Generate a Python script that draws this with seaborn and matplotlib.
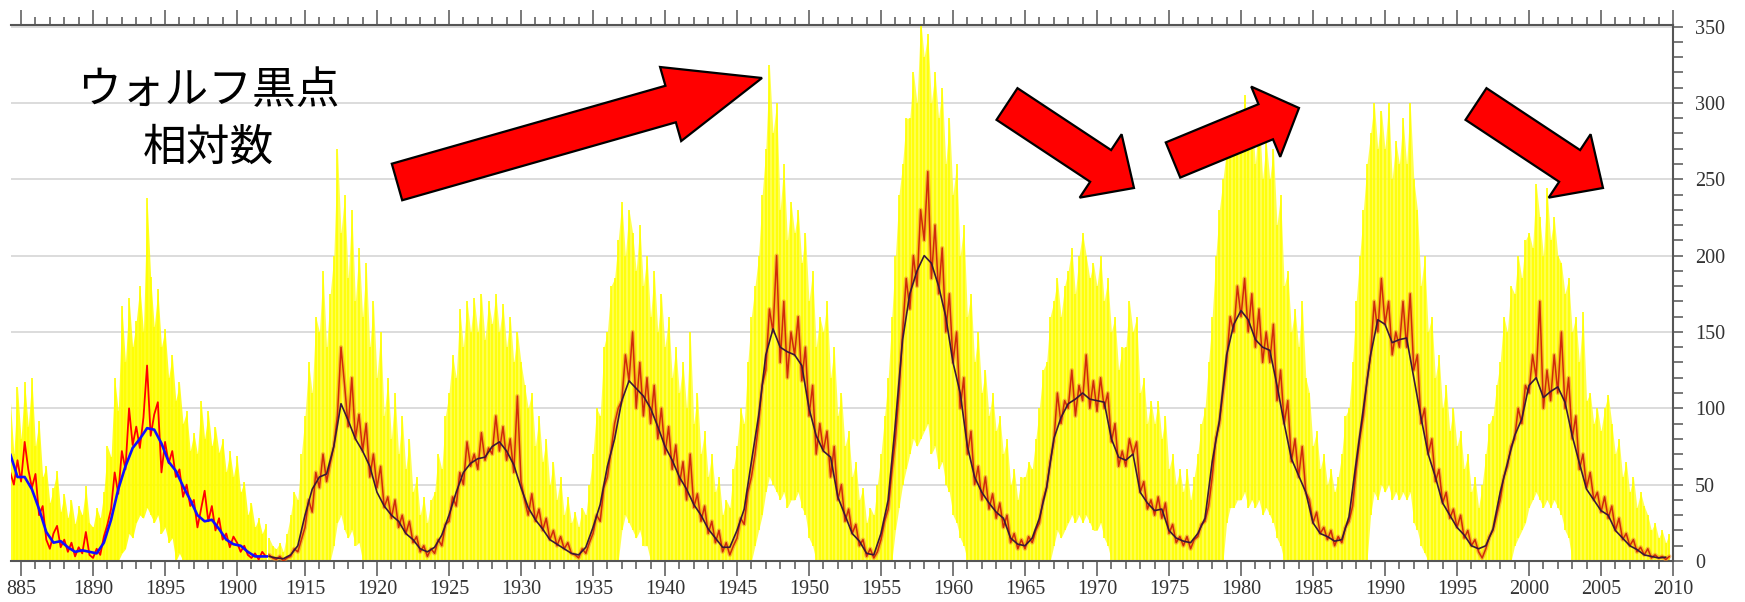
import numpy as np
import pandas as pd
import matplotlib
matplotlib.use('Agg')
import matplotlib.pyplot as plt
import matplotlib.ticker as mticker
from matplotlib.patches import FancyArrow
from matplotlib.transforms import IdentityTransform
import seaborn as sns

# ---- left image (1884 - 1902), quarterly / half-yearly samples ----
left_start = 1884.25
left_smooth = [70, 55, 55, 47, 34, 19, 12, 13, 9, 6, 7, 6, 5, 12, 27, 47, 62, 74,
               80, 87, 86, 77, 65, 59, 49, 40, 30, 26, 27, 21, 14, 11, 10, 6, 3, 3, 3]
left_monthly = [58, 50, 66, 52,
                78, 60, 48, 57,
                30, 36, 14, 8,
                18, 23, 9, 14,
                6, 12, 3, 9,
                5, 19, 4, 2,
                8, 4, 16, 24,
                34, 58, 44, 72,
                60, 100, 76, 88,
                74, 94, 128, 82,
                96, 104, 58, 78,
                64, 72, 55, 60,
                42, 50, 36, 40,
                22, 34, 46, 26,
                36, 20, 28, 14,
                18, 9, 16, 12,
                6, 10, 4, 2,
                5, 1, 6, 3]
left_daily_hi = [106, 70, 114, 80,
                 117, 88, 120, 75,
                 92, 55, 62, 38,
                 48, 59, 32, 44,
                 28, 40, 24, 36,
                 30, 49, 25, 22,
                 35, 28, 45, 75,
                 68, 120, 98, 167,
                 130, 172, 140, 157,
                 180, 150, 238, 186,
                 153, 178, 140, 152,
                 120, 135, 105, 117,
                 90, 98, 72, 84,
                 70, 105, 80, 98,
                 75, 88, 71, 80,
                 58, 72, 55, 69,
                 45, 52, 30, 38,
                 22, 28, 18, 24]
left_daily_lo = [0, 0, 0, 0,
                 0, 0, 0, 0,
                 0, 0, 0, 0,
                 0, 0, 0, 0,
                 0, 0, 0, 0,
                 0, 0, 0, 0,
                 0, 0, 0, 0,
                 0, 0, 0, 5,
                 8, 18, 15, 25,
                 30, 28, 35, 30,
                 25, 30, 18, 22,
                 12, 15, 0, 5,
                 0, 0, 0, 0,
                 0, 0, 0, 0,
                 0, 0, 0, 0,
                 0, 0, 0, 0,
                 0, 0, 0, 0,
                 0, 0, 0, 0]

# ---- right image (1912 - 2009) ----
right_start = 1912.5
right_smooth = [3,
    2, 1.5, 4, 10, 30, 47, 55, 57, 75, 103, 92, 80, 72, 62, 45, 36, 30, 26, 18, 14,      # 1913-1922
    8, 6, 9, 17, 30, 45, 58, 64, 67, 68, 75, 78, 72, 63, 48, 35, 27, 21, 14, 11,          # 1923-1932
    8, 5, 4, 9, 22, 37, 62, 80, 105, 118, 113, 108, 100, 88, 75, 66, 55, 47, 37, 30,      # 1933-1942
    21, 15, 9, 9, 20, 34, 65, 95, 135, 152, 140, 137, 135, 128, 100, 82, 72, 68, 42, 30,  # 1943-1952
    18, 13, 5, 4, 18, 40, 90, 145, 175, 190, 200, 195, 180, 160, 130, 110, 75, 55, 45, 38,  # 1953-1962
    32, 28, 15, 11, 10, 15, 28, 48, 80, 94, 103, 106, 110, 106, 105, 104, 80, 68, 66, 70,   # 1963-1972
    45, 38, 33, 34, 20, 15, 13, 12, 18, 28, 65, 92, 135, 155, 164, 158, 145, 140, 138, 115, # 1973-1982
    90, 67, 56, 45, 25, 18, 16, 13, 14, 29, 65, 100, 135, 158, 155, 143, 145, 146, 120, 94, # 1983-1992
    70, 55, 38, 30, 22, 17, 10, 8, 10, 21, 45, 64, 82, 93, 115, 120, 107, 111, 114, 104,    # 1993-2002
    82, 64, 47, 40, 33, 30, 20, 15, 10, 7.5, 4, 3, 2, 2.5]                                  # 2003-2009
right_monthly = [4, 2,
    1, 3, 0, 2,  3, 8, 6, 14,  22, 40, 32, 58,  48, 70, 52, 64,  75, 95, 140, 115,
    88, 120, 80, 96,  72, 90, 55, 70,  48, 62, 35, 42,  28, 40, 22, 30,  18, 26, 12, 16,
    6, 10, 3, 8,  5, 14, 10, 24,  26, 42, 36, 58,  50, 78, 62, 70,  60, 84, 66, 74,
    70, 95, 72, 88,  66, 80, 58, 108,  52, 40, 30, 44,  26, 34, 20, 28,  14, 20, 10, 16,
    8, 12, 5, 4,  2, 8, 5, 12,  18, 30, 26, 48,  55, 72, 90, 100,  105, 135, 118, 150,
    100, 130, 95, 120,  90, 115, 80, 100,  70, 88, 60, 76,  50, 65, 40, 70,  35, 44, 26, 36,
    18, 26, 12, 20,  6, 12, 4, 10,  15, 28, 24, 45,  55, 70, 90, 115,  125, 165, 150, 200,
    130, 170, 120, 150,  135, 160, 118, 140,  95, 115, 70, 90,  72, 85, 55, 75,  40, 50, 26, 34,
    18, 24, 10, 14,  3, 8, 2, 6,  14, 26, 34, 58,  80, 110, 150, 185,  165, 200, 180, 230,
    210, 255, 185, 220,  175, 205, 150, 175,  130, 150, 100, 120,  70, 85, 50, 62,  40, 55, 34, 44,
    28, 38, 22, 30,  12, 18, 8, 14,  8, 16, 12, 20,  25, 40, 48, 65,  78, 110, 90, 105,
    100, 125, 95, 115,  105, 135, 100, 118,  98, 120, 100, 110,  78, 90, 62, 72,  62, 80, 70, 78,
    45, 52, 34, 40,  30, 42, 28, 38,  18, 24, 12, 16,  10, 16, 8, 14,  16, 24, 26, 36,
    55, 80, 90, 110,  130, 160, 150, 180,  160, 185, 150, 175,  140, 165, 130, 150,  130, 155, 105, 125,
    90, 105, 65, 80,  55, 75, 45, 40,  25, 32, 18, 22,  14, 20, 10, 16,  12, 22, 26, 36,
    60, 80, 95, 118,  135, 170, 150, 185,  155, 170, 135, 150,  140, 170, 140, 175,  125, 135, 90, 100,
    70, 80, 52, 60,  38, 45, 28, 34,  22, 30, 15, 20,  10, 14, 6, 2,  8, 16, 20, 30,
    40, 55, 62, 75,  80, 100, 90, 115,  110, 135, 120, 170,  100, 125, 105, 135,  110, 150, 100, 120,
    80, 95, 60, 70,  48, 58, 40, 45,  32, 42, 28, 36,  20, 28, 14, 18,  10, 14, 6, 9,
    4, 8, 2, 4,  2, 3, 1, 3]
right_daily_hi = [15, 10,
    8, 12, 6, 18,  30, 45, 40, 70,  95, 130, 110, 160,  150, 190, 140, 175,  200, 270, 215, 240,
    185, 230, 170, 205,  160, 195, 140, 170,  120, 150, 95, 120,  80, 110, 70, 95,  60, 80, 45, 55,
    30, 42, 25, 40,  45, 70, 60, 95,  110, 135, 120, 165,  140, 170, 150, 172,  150, 175, 145, 170,
    155, 175, 150, 168,  140, 160, 130, 150,  130, 115, 100, 110,  75, 95, 65, 80,  50, 65, 40, 55,
    30, 42, 25, 32,  22, 35, 30, 50,  70, 100, 95, 140,  150, 180, 185, 210,  235, 200, 230, 215,
    190, 220, 180, 200,  160, 190, 150, 175,  140, 160, 120, 140,  110, 130, 100, 150,  90, 110, 70, 85,
    55, 70, 45, 55,  30, 40, 35, 60,  75, 100, 90, 130,  160, 180, 200, 240,  270, 325, 280, 300,
    230, 260, 210, 235,  215, 230, 195, 215,  170, 190, 140, 160,  150, 170, 120, 140,  95, 110, 75, 85,
    55, 65, 40, 48,  25, 35, 30, 50,  70, 95, 120, 160,  200, 240, 260, 290,  290, 320, 300, 355,
    330, 345, 300, 320,  290, 310, 260, 290,  240, 260, 200, 220,  160, 175, 130, 150,  110, 125, 95, 110,
    85, 95, 70, 80,  50, 60, 40, 55,  55, 65, 60, 80,  100, 125, 130, 160,  170, 185, 160, 180,
    190, 205, 175, 200,  215, 200, 185, 195,  180, 200, 170, 185,  150, 160, 125, 140,  140, 170, 150, 160,
    110, 120, 90, 105,  90, 105, 80, 95,  60, 70, 50, 60,  45, 60, 40, 55,  70, 90, 100, 130,
    160, 200, 230, 250,  270, 285, 270, 295,  280, 305, 270, 290,  260, 295, 250, 275,  250, 270, 220, 240,
    180, 190, 150, 165,  140, 170, 120, 110,  75, 85, 60, 70,  50, 60, 45, 55,  70, 95, 100, 130,
    170, 200, 230, 260,  280, 300, 270, 295,  270, 300, 250, 275,  260, 290, 260, 300,  250, 230, 180, 200,
    150, 160, 120, 135,  100, 115, 85, 100,  75, 85, 60, 70,  45, 55, 35, 50,  70, 90, 95, 115,
    130, 160, 150, 180,  175, 200, 185, 210,  215, 205, 247, 225,  200, 244, 210, 225,  200, 195, 175, 185,
    150, 160, 130, 163,  105, 110, 90, 100,  85, 100, 109, 90,  70, 80, 55, 65,  45, 55, 35, 45,
    36, 30, 20, 25,  15, 20, 12, 18]
right_daily_lo = [0, 0,
    0, 0, 0, 0,  0, 0, 0, 0,  0, 0, 0, 0,  0, 0, 0, 0,  10, 25, 30, 20,
    15, 20, 10, 12,  0, 0, 0, 0,  0, 0, 0, 0,  0, 0, 0, 0,  0, 0, 0, 0,
    0, 0, 0, 0,  0, 0, 0, 0,  0, 0, 0, 0,  0, 0, 0, 0,  0, 0, 0, 0,
    0, 0, 0, 0,  0, 0, 0, 0,  0, 0, 0, 0,  0, 0, 0, 0,  0, 0, 0, 0,
    0, 0, 0, 0,  0, 0, 0, 0,  0, 0, 0, 0,  0, 0, 0, 0,  20, 30, 25, 20,
    15, 20, 10, 10,  0, 0, 0, 0,  0, 0, 0, 0,  0, 0, 0, 0,  0, 0, 0, 0,
    0, 0, 0, 0,  0, 0, 0, 0,  0, 0, 0, 0,  0, 10, 20, 30,  45, 55, 50, 45,
    40, 45, 35, 40,  40, 45, 35, 30,  15, 10, 0, 0,  0, 0, 0, 0,  0, 0, 0, 0,
    0, 0, 0, 0,  0, 0, 0, 0,  0, 0, 0, 0,  20, 35, 50, 60,  70, 80, 75, 80,
    85, 90, 70, 75,  60, 65, 50, 45,  30, 25, 15, 10,  0, 0, 0, 0,  0, 0, 0, 0,
    0, 0, 0, 0,  0, 0, 0, 0,  0, 0, 0, 0,  0, 0, 0, 0,  10, 20, 15, 20,
    25, 30, 25, 30,  25, 30, 25, 20,  20, 25, 15, 10,  0, 0, 0, 0,  0, 0, 0, 0,
    0, 0, 0, 0,  0, 0, 0, 0,  0, 0, 0, 0,  0, 0, 0, 0,  0, 0, 0, 0,
    0, 0, 0, 0,  25, 35, 35, 40,  40, 45, 35, 40,  35, 40, 30, 35,  30, 25, 15, 10,
    0, 0, 0, 0,  0, 0, 0, 0,  0, 0, 0, 0,  0, 0, 0, 0,  0, 0, 0, 0,
    0, 0, 0, 0,  30, 45, 40, 50,  45, 50, 40, 45,  40, 45, 40, 45,  25, 20, 10, 5,
    0, 0, 0, 0,  0, 0, 0, 0,  0, 0, 0, 0,  0, 0, 0, 0,  0, 0, 0, 0,
    0, 0, 0, 0,  10, 15, 20, 25,  35, 40, 45, 40,  35, 40, 35, 40,  35, 30, 20, 15,
    0, 0, 0, 0,  0, 0, 0, 0,  0, 0, 0, 0,  0, 0, 0, 0,  0, 0, 0, 0,
    0, 0, 0, 0,  0, 0, 0, 0]

left_major = [1885, 1890, 1895, 1900]
left_tick_labels = ['885', '1890', '1895', '1900']
right_major = list(range(1915, 2011, 5))
y_major = list(range(0, 351, 50))
title_text = 'ウォルフ黒点\n相対数'


def frame(start, step, values, name):
    t = start + step * np.arange(len(values))
    return pd.DataFrame({'year': t, name: values})


def draw_daily(ax, d, body, needle):
    # yellow band of the daily values plus thin spikes
    ax.fill_between(d['year'], d['lo'], d['hi'], color=body, alpha=0.85, lw=0, zorder=2)
    ax.vlines(d['year'], d['lo'], d['hi'], color=needle, lw=1.2, zorder=2)


sns.set_style('white')
plt.rcParams['font.family'] = ['Liberation Serif', 'DejaVu Serif']

W, H = 1745, 602
fig = plt.figure(figsize=(W / 100, H / 100), dpi=100)
ax_l = fig.add_axes([11 / W, 1 - 561 / H, 257 / W, 536 / H])
ax_r = fig.add_axes([268 / W, 1 - 561 / H, 1405 / W, 536 / H])

# left panel
d_l = frame(left_start, 0.25, left_daily_hi, 'hi')
d_l['lo'] = left_daily_lo
m_l = frame(left_start, 0.25, left_monthly, 'ssn')
s_l = frame(left_start, 0.5, left_smooth, 'ssn')
draw_daily(ax_l, d_l, '#ffff00', '#ffff00')
sns.lineplot(data=m_l, x='year', y='ssn', ax=ax_l, color='#ff0000', lw=1.3, zorder=3)
sns.lineplot(data=s_l, x='year', y='ssn', ax=ax_l, color='#1010ff', lw=1.9, zorder=4)

# right panel
d_r = frame(right_start, 0.25, right_daily_hi, 'hi')
d_r['lo'] = right_daily_lo
m_r = frame(right_start, 0.25, right_monthly, 'ssn')
s_r = frame(right_start, 0.5, right_smooth, 'ssn')
draw_daily(ax_r, d_r, '#ffff30', '#ffff00')
sns.lineplot(data=m_r, x='year', y='ssn', ax=ax_r, color='#f08a20', lw=3.0, alpha=0.55, zorder=3)
sns.lineplot(data=m_r, x='year', y='ssn', ax=ax_r, color='#d02a08', lw=1.1, zorder=3)
sns.lineplot(data=s_r, x='year', y='ssn', ax=ax_r, color='#3a1838', lw=1.2, zorder=4)

ax_l.set_xlim(1884.3, 1902.15)
ax_r.set_xlim(1912.43, 2010.0)

for ax in (ax_l, ax_r):
    ax.set_ylim(0, 351)
    ax.set_xlabel('')
    ax.set_ylabel('')
    ax.set_facecolor('white')
    ax.set_axisbelow(True)
    ax.yaxis.set_major_locator(mticker.FixedLocator(y_major))
    ax.yaxis.set_minor_locator(mticker.MultipleLocator(10))
    ax.xaxis.set_minor_locator(mticker.MultipleLocator(1))
    ax.grid(True, axis='y', which='major', color='#d6d6d6', lw=1.2)
    ax.grid(False, axis='x')
    ax.spines['left'].set_visible(False)
    for s in ('top', 'bottom', 'right'):
        ax.spines[s].set_color('#555555')
        ax.spines[s].set_linewidth(1.5)
    ax.tick_params(axis='x', which='both', direction='out', top=True, bottom=True,
                   labeltop=False, colors='#555555', labelcolor='#333333',
                   labelsize=14.5, width=1.1)
    ax.tick_params(axis='x', which='major', length=11, pad=3)
    ax.tick_params(axis='x', which='minor', length=5.5)

ax_l.spines['right'].set_visible(False)
ax_l.xaxis.set_major_locator(mticker.FixedLocator(left_major))
ax_l.xaxis.set_major_formatter(mticker.FixedFormatter(left_tick_labels))
ax_l.tick_params(axis='y', which='both', left=False, right=False, labelleft=False)

ax_r.xaxis.set_major_locator(mticker.FixedLocator(right_major))
ax_r.xaxis.set_major_formatter(mticker.FormatStrFormatter('%d'))
ax_r.yaxis.tick_right()
ax_r.tick_params(axis='y', which='both', direction='out', left=False, right=True,
                 labelleft=False, labelright=True, length=7, width=1.1,
                 colors='#555555', labelcolor='#333333', labelsize=14.5, pad=9)

# Japanese caption
fig.text(208 / W, 1 - 119 / H, title_text, ha='center', va='center',
         multialignment='center', fontsize=31.5, linespacing=1.32,
         family=['Noto Sans CJK JP', 'DejaVu Sans'], color='black', zorder=6)

# red arrows (pixel coordinates, origin bottom-left)
arrows = [
    (397, 420, 365, 104, 38, 77, 95),
    (1007, 498, 127, -84, 38, 76, 40),
    (1173, 442, 126, 52, 38, 76, 36),
    (1476, 498, 127, -84, 38, 76, 40),
]
for x0, y0, dx, dy, w, hw, hl in arrows:
    fig.add_artist(FancyArrow(x0, y0, dx, dy, width=w, head_width=hw, head_length=hl,
                              length_includes_head=True, fc='#ff0000', ec='black',
                              lw=1.6, transform=IdentityTransform(), zorder=7))

fig.savefig('out.png', dpi=100)
